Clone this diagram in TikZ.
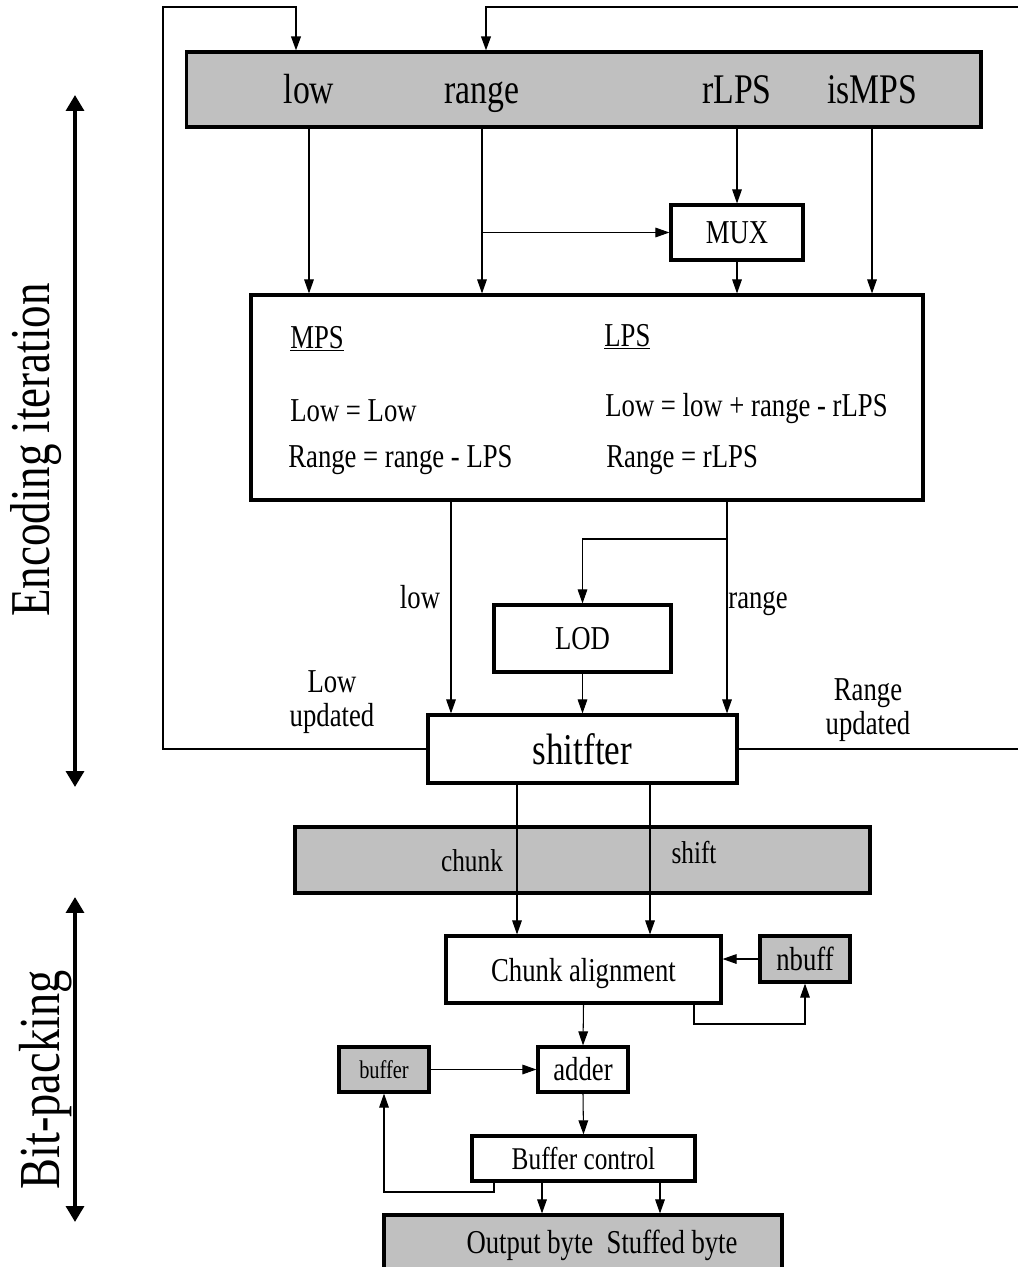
\documentclass[tikz,border=0pt]{standalone}
\usepackage{fontspec}
\setmainfont{Liberation Serif}[FakeStretch=0.8]
\usepackage{tikz}
\usetikzlibrary{arrows.meta,positioning,calc}
\definecolor{reggray}{RGB}{192,192,192}

\begin{document}
\begin{tikzpicture}[
    x=0.02cm, y=-0.02cm,
    blk/.style={draw, line width=1.8pt, fill=white, inner sep=0pt, font=\fontsize{19}{19}\selectfont},
    reg/.style={blk, fill=reggray},
    lbl/.style={inner sep=0pt, anchor=base, font=\fontsize{19}{19}\selectfont},
    eq/.style={lbl, anchor=base west},
    arr/.style={-{Triangle[length=8pt,width=5.5pt]}, line width=0.6pt},
    fb/.style={arr, line width=1.1pt},
    side/.style={{Triangle[length=9pt,width=10pt]}-{Triangle[length=9pt,width=10pt]}, line width=2.4pt}
]
\useasboundingbox (0,0) rectangle (1017,1267);

% encoding iteration
\node[reg, minimum width=15.9cm, minimum height=1.5cm] (regs) at (583.5,89.5) {};
\node[lbl, font=\fontsize{24}{24}\selectfont] (low) at (309,104) {low};
\node[lbl, font=\fontsize{24}{24}\selectfont] (range) at (482,104) {range};
\node[lbl, font=\fontsize{24}{24}\selectfont] (rLPS) at (737,104) {rLPS};
\node[lbl, font=\fontsize{24}{24}\selectfont] (isMPS) at (872,104) {isMPS};

\node[blk, minimum width=2.64cm, minimum height=1.1cm] (mux) at (737,232.5) {MUX};
\node[blk, minimum width=13.44cm, minimum height=4.1cm] (calc) at (587,397.5) {};
\node[eq] (mpsh) at (290,348) {\underline{MPS}};
\node[eq] (lpsh) at (604,346) {\underline{LPS}};
\node[eq] (mpslow) at (290,421) {Low = Low};
\node[eq] (mpsrng) at (288,467) {Range = range - LPS};
\node[eq] (lpslow) at (605,416) {Low = low + range - rLPS};
\node[eq] (lpsrng) at (606,467) {Range = rLPS};

\node[blk, minimum width=3.54cm, minimum height=1.34cm] (lod) at (582.5,638.5) {LOD};
\node[blk, minimum width=6.18cm, minimum height=1.36cm, font=\fontsize{25}{25}\selectfont] (shifter) at (582.5,749) {shitfter};
\node[lbl] (lowlbl) at (420,608) {low};
\node[lbl] (rnglbl) at (758,608) {range};
\node[lbl, anchor=center, align=center] (lowupd) at (332,702) {Low\\updated};
\node[lbl, anchor=center, align=center] (rngupd) at (868,710) {Range\\updated};

% bit-packing
\node[reg, minimum width=11.5cm, minimum height=1.32cm] (chunks) at (582.5,860) {};
\node[lbl, font=\fontsize{18}{18}\selectfont] (chunklbl) at (472,871) {chunk};
\node[lbl, font=\fontsize{18}{18}\selectfont] (shiftlbl) at (694,863) {shift};
\node[blk, minimum width=5.5cm, minimum height=1.34cm] (align) at (583.5,969.5) {};
\node[lbl] (alignlbl) at (583.5,981) {Chunk alignment};
\node[reg, minimum width=1.8cm, minimum height=0.92cm] (nbuff) at (805,959) {nbuff};
\node[blk, minimum width=1.8cm, minimum height=0.9cm] (adder) at (583,1069.5) {adder};
\node[reg, minimum width=1.8cm, minimum height=0.9cm, font=\fontsize{14.5}{14.5}\selectfont] (buffer) at (384,1069.5) {buffer};
\node[blk, minimum width=4.46cm, minimum height=0.9cm, font=\fontsize{18}{18}\selectfont] (bctrl) at (583.5,1158.5) {Buffer control};
\node[reg, minimum width=7.96cm, minimum height=1.6cm] (outbar) at (583,1255) {};
\node[lbl] (outlbl) at (602,1253) {Output byte~~Stuffed byte};

\node[lbl, anchor=center, rotate=90, font=\fontsize{32}{32}\selectfont] (enclbl) at (36,450) {Encoding iteration};
\node[lbl, anchor=center, rotate=90, font=\fontsize{33}{33}\selectfont] (bplbl) at (46,1080) {Bit-packing};

\coordinate (lowbus) at (451,0);
\coordinate (rngbus) at (727,0);
\coordinate (lodtap) at (727,539);
\coordinate (chunkbus) at (517,0);
\coordinate (shiftbus) at (650,0);
\coordinate (nbloop) at (694,1024);
\coordinate (bfloop) at (494,1192);
\coordinate (outA) at (542,0);
\coordinate (outB) at (660,0);
\coordinate (fbL) at (163,7);
\coordinate (fbR) at (1024,7);
\coordinate (lowin) at (296,0);
\coordinate (rngin) at (486,0);
\coordinate (encTop) at (75,95);
\coordinate (encBot) at (75,787);
\coordinate (bpTop) at (75,897);
\coordinate (bpBot) at (75,1222);

\draw[arr] (low |- regs.south) -- (low |- calc.north);
\draw[arr] (range |- regs.south) -- (range |- calc.north);
\draw[arr] (range |- mux.west) -- (mux.west);
\draw[arr] (rLPS |- regs.south) -- (mux.north);
\draw[arr] (mux.south) -- (mux |- calc.north);
\draw[arr] (isMPS |- regs.south) -- (isMPS |- calc.north);

\draw[arr] (lowbus |- calc.south) -- (lowbus |- shifter.north);
\draw[arr] (rngbus |- calc.south) -- (rngbus |- shifter.north);
\draw[arr] (lodtap) -| (lod.north);
\draw[arr] (lod.south) -- (shifter.north);
\draw[fb] (shifter.west) -| (fbL) -| (lowin |- regs.north);
\draw[fb] (shifter.east) -| (fbR) -| (rngin |- regs.north);

\draw[arr] (chunkbus |- shifter.south) -- (chunkbus |- align.north);
\draw[arr] (shiftbus |- shifter.south) -- (shiftbus |- align.north);
\draw[arr] (nbuff.west) -- (nbuff.west -| align.east);
\draw[arr] (nbloop |- align.south) -- (nbloop) -| (nbuff.south);
\draw[arr] (align.south) -- (adder.north);
\draw[arr] (buffer.east) -- (adder.west);
\draw[arr] (adder.south) -- (bctrl.north);
\draw[arr] (bfloop |- bctrl.south) -- (bfloop) -| (buffer.south);
\draw[arr] (outA |- bctrl.south) -- (outA |- outbar.north);
\draw[arr] (outB |- bctrl.south) -- (outB |- outbar.north);

\draw[side] (encTop) -- (encBot);
\draw[side] (bpTop) -- (bpBot);
\end{tikzpicture}
\end{document}
